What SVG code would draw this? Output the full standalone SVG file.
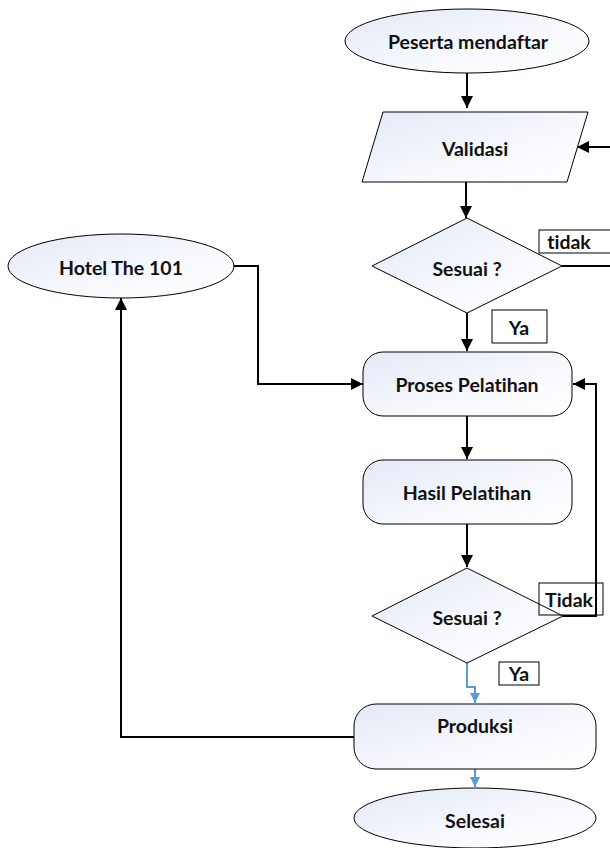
<svg xmlns="http://www.w3.org/2000/svg" width="610" height="848" viewBox="0 0 610 848">
<defs>
<linearGradient id="g" x1="0" y1="0" x2="1" y2="1">
<stop offset="0" stop-color="#e3e9f6"/>
<stop offset="0.6" stop-color="#f7f9fd"/>
<stop offset="1" stop-color="#ffffff"/>
</linearGradient>
<marker id="ab" markerWidth="12" markerHeight="12" viewBox="0 0 12 12" refX="12" refY="6" orient="auto" markerUnits="userSpaceOnUse">
<path d="M0,0 L12,6 L0,12 z" fill="#000"/>
</marker>
<marker id="abl" markerWidth="10" markerHeight="10" viewBox="0 0 10 10" refX="10" refY="5" orient="auto" markerUnits="userSpaceOnUse">
<path d="M0,0 L10,5 L0,10 z" fill="#5b9bd5"/>
</marker>
<style>
.s{fill:url(#g);stroke:#000;stroke-width:1}
.t{font-family:Lato,"Liberation Sans",sans-serif;font-weight:bold;font-size:19.5px;fill:#111;text-anchor:middle;dominant-baseline:central;font-variant-ligatures:none;font-feature-settings:"liga" 0}
.lb{fill:#fff;stroke:#000;stroke-width:1}
.c{fill:none;stroke:#000;stroke-width:2;marker-end:url(#ab)}
.cn{fill:none;stroke:#000;stroke-width:2}
.cb{fill:none;stroke:#5b9bd5;stroke-width:2;marker-end:url(#abl)}
</style>
</defs>
<g id="connectors">
<path class="c" d="M467,73 V108"/>
<path class="c" d="M610,147 H577"/>
<path class="c" d="M466,182 V218"/>
<path class="cn" d="M562,266 H610"/>
<path class="c" d="M467,313 V351"/>
<path class="c" d="M467,416 V459"/>
<path class="c" d="M467,524 V567"/>
<path class="c" d="M563,616 H596 V384 H573"/>
<path class="cb" d="M467,663 V687 H475 V703"/>
<path class="c" d="M354,737 H121 V298"/>
<path class="c" d="M233,266 H258 V384 H363"/>
<path class="cb" d="M475,769 V787"/>
</g>
<g id="peserta">
<ellipse class="s" cx="467" cy="41" rx="122" ry="32"/>
<text class="t" x="468" y="41">Peserta mendaftar</text>
</g>
<g id="validasi">
<path class="s" d="M383,112 H588 L567,182 H362 z"/>
<text class="t" x="475" y="148">Validasi</text>
</g>
<g id="sesuai1">
<path class="s" d="M467,218 L562,266 L467,313 L372,266 z"/>
<text class="t" x="467" y="268">Sesuai ?</text>
</g>
<g id="label-tidak1">
<rect class="lb" x="539" y="230" width="75" height="23"/>
<text class="t" x="569" y="241">tidak</text>
</g>
<g id="label-ya1">
<rect class="lb" x="492" y="310" width="55" height="33"/>
<text class="t" x="519" y="327">Ya</text>
</g>
<g id="hotel">
<ellipse class="s" cx="121" cy="266" rx="113" ry="32"/>
<text class="t" x="121" y="267">Hotel The 101</text>
</g>
<g id="proses">
<rect class="s" x="363" y="352" width="209" height="64" rx="20"/>
<text class="t" x="467" y="384">Proses Pelatihan</text>
</g>
<g id="hasil">
<rect class="s" x="363" y="460" width="209" height="64" rx="20"/>
<text class="t" x="467" y="492">Hasil Pelatihan</text>
</g>
<g id="sesuai2">
<path class="s" d="M467,568 L563,616 L467,663 L372,616 z"/>
<text class="t" x="467" y="617">Sesuai ?</text>
</g>
<g id="label-tidak2">
<rect class="lb" x="539" y="583" width="64" height="32" fill-opacity="0"/>
<text class="t" x="569" y="599">Tidak</text>
</g>
<g id="label-ya2">
<rect class="lb" x="499" y="662" width="40" height="23"/>
<text class="t" x="519" y="673">Ya</text>
</g>
<g id="produksi">
<rect class="s" x="354" y="704" width="242" height="65" rx="22"/>
<text class="t" x="475" y="725">Produksi</text>
</g>
<g id="selesai">
<ellipse class="s" cx="475" cy="818" rx="121" ry="30"/>
<text class="t" x="475" y="820">Selesai</text>
</g>
</svg>
